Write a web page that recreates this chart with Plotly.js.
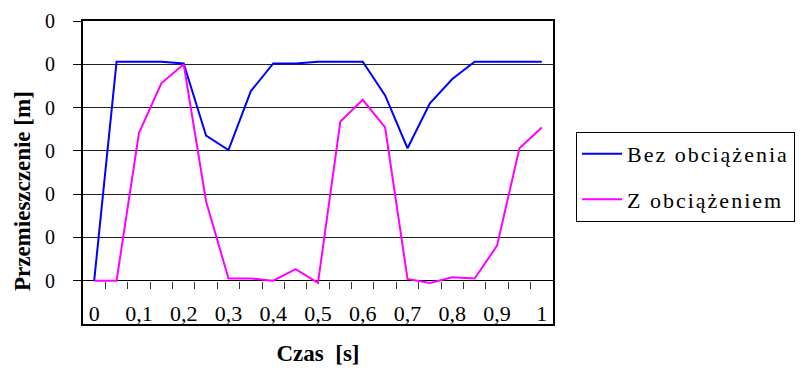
<!DOCTYPE html>
<html>
<head>
<meta charset="utf-8">
<script src="https://cdn.plot.ly/plotly-3.0.1.min.js"></script>
<style>
  .legendtext { letter-spacing: 2px; }
</style>
</head>
<body style="margin:0">
<div id="plot" style="width:811px;height:379px"></div>
<script>
// Time [s]
const times = [0, 0.05, 0.1, 0.15, 0.2, 0.25, 0.3, 0.35, 0.4, 0.45, 0.5,
               0.55, 0.6, 0.65, 0.7, 0.75, 0.8, 0.85, 0.9, 0.95, 1];
// Displacement series (relative units)
const bezObciazenia = [0, 5.06, 5.06, 5.06, 5.02, 3.35, 3.02, 4.38, 5.02, 5.02, 5.06,
                       5.06, 5.06, 4.28, 3.06, 4.1, 4.66, 5.06, 5.06, 5.06, 5.06];
const zObciazeniem = [0, 0, 3.41, 4.56, 5.0, 1.83, 0.05, 0.05, 0, 0.27, -0.05,
                      3.68, 4.18, 3.54, 0.04, -0.05, 0.08, 0.05, 0.81, 3.06, 3.54];
const seriesNames = ['Bez obciążenia', 'Z obciążeniem'];
// Tick labels
const xLabelVals = [0, 0.1, 0.2, 0.3, 0.4, 0.5, 0.6, 0.7, 0.8, 0.9, 1];
const xLabelText = ['0', '0,1', '0,2', '0,3', '0,4', '0,5', '0,6', '0,7', '0,8', '0,9', '1'];
const yTickVals = [-1, 0, 1, 2, 3, 4, 5, 6];
const yTickText = ['0', '0', '0', '0', '0', '0', '0', '0'];

const step = times[1] - times[0];
const xRange = [times[0] - step / 2, times[times.length - 1] + step / 2];
const boundaries = times.slice(1).map((t, i) => (times[i] + t) / 2);

const FAM = 'Liberation Serif, DejaVu Serif';

const data = [
  { x: times, y: bezObciazenia, name: seriesNames[0], mode: 'lines',
    line: { color: '#0000FF', width: 2 }, legendgroup: 'a' },
  { x: times, y: zObciazeniem, name: seriesNames[1], mode: 'lines',
    line: { color: '#FF00FF', width: 2 }, legendgroup: 'b' },
  // carrier for the category tick marks on the zero line (not visible)
  { x: times, y: zObciazeniem, mode: 'lines', opacity: 0,
    showlegend: false, hoverinfo: 'skip', xaxis: 'x2' }
];

const yMin = yTickVals[0], yMax = yTickVals[yTickVals.length - 1];

const layout = {
  width: 811, height: 379,
  margin: { l: 83, r: 258, t: 21, b: 55 },
  showlegend: true,
  xaxis: {
    range: xRange, tickmode: 'array', tickvals: xLabelVals, ticktext: xLabelText,
    ticklabelposition: 'inside', ticks: '', showgrid: false, zeroline: false,
    showline: true, linecolor: '#000', linewidth: 2, mirror: true,
    tickfont: { family: FAM, size: 22, color: '#000' },
    title: { text: '<b>Czas  [s]</b>', font: { family: FAM, size: 23, color: '#000' }, standoff: 20 }
  },
  xaxis2: {
    overlaying: 'x', anchor: 'free', position: (0 - yMin) / (yMax - yMin),
    range: xRange, tickmode: 'array', tickvals: boundaries,
    ticks: 'outside', ticklen: 7, tickwidth: 1, tickcolor: '#333',
    showticklabels: false, showgrid: false, zeroline: false, showline: false
  },
  yaxis: {
    range: [yMin, yMax], tickmode: 'array', tickvals: yTickVals,
    ticktext: yTickText.map(s => s + '\u00a0\u00a0\u2009'),
    ticks: 'outside', ticklen: 8, tickcolor: '#000', tickwidth: 1,
    showgrid: true, gridcolor: '#222', gridwidth: 1,
    zeroline: true, zerolinecolor: '#000', zerolinewidth: 1,
    showline: true, linecolor: '#000', linewidth: 2, mirror: true,
    tickfont: { family: FAM, size: 20, color: '#000' }
  },
  legend: {
    x: 1.049, xanchor: 'left', y: 0.634, yanchor: 'top',
    bordercolor: '#000', borderwidth: 1, bgcolor: '#fff',
    font: { family: FAM, size: 22, color: '#000' },
    tracegroupgap: 14, itemwidth: 40
  },
  annotations: [{
    text: '<b>Przemieszczenie [m]</b>', textangle: -90,
    xref: 'paper', yref: 'paper', x: -0.129, y: 0.44,
    xanchor: 'center', yanchor: 'middle', showarrow: false,
    font: { family: FAM, size: 23, color: '#000' }
  }]
};

Plotly.newPlot('plot', data, layout, { displayModeBar: false });
</script>
</body>
</html>
